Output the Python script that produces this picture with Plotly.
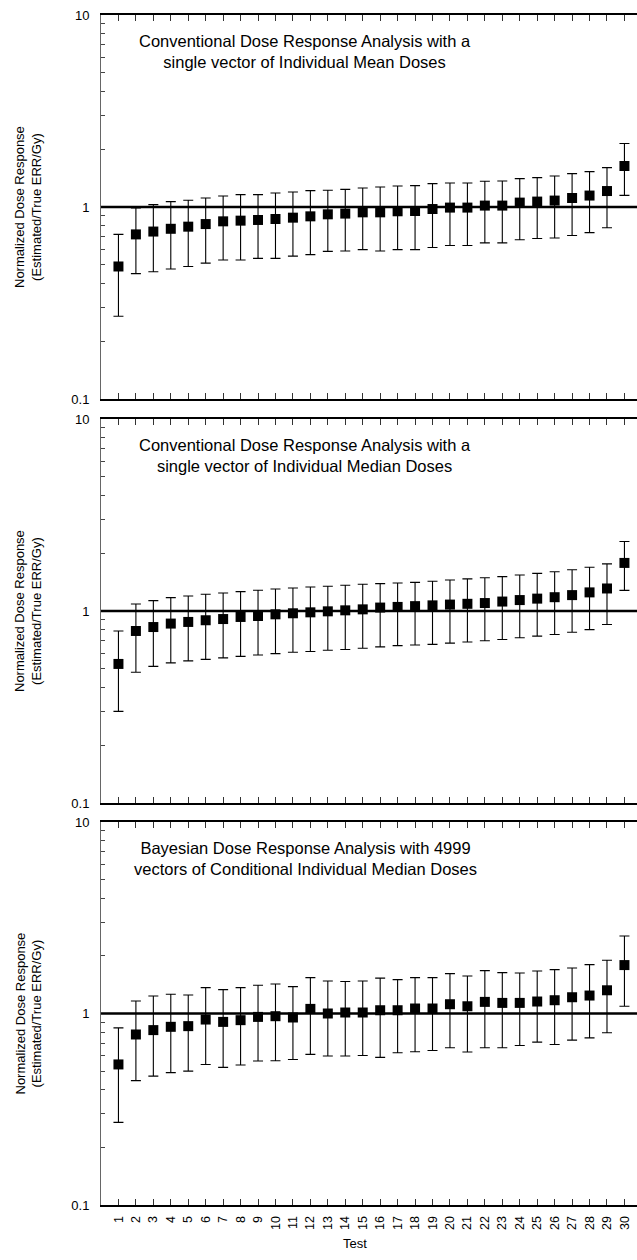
import plotly.graph_objects as go

tests = list(range(1, 31))
tick_labels = [str(t) for t in tests]
y_tick_values = [0.1, 0.2, 0.3, 0.4, 0.5, 0.6, 0.7, 0.8, 0.9, 1, 2, 3, 4, 5, 6, 7, 8, 9, 10]
y_tick_text = ["0.1"] + [""] * 8 + ["1"] + [""] * 8 + ["10"]

# Panel 1: conventional, individual mean doses
mean_est = [0.49, 0.72, 0.745, 0.77, 0.79, 0.815, 0.842, 0.849, 0.856, 0.866,
            0.88, 0.894, 0.916, 0.924, 0.938, 0.938, 0.95, 0.953, 0.976, 0.993,
            0.993, 1.017, 1.017, 1.054, 1.067, 1.08, 1.114, 1.147, 1.211, 1.635]
mean_hi = [0.72, 0.99, 1.029, 1.067, 1.084, 1.114, 1.141, 1.16, 1.16, 1.183,
           1.197, 1.217, 1.222, 1.236, 1.256, 1.271, 1.286, 1.292, 1.324, 1.334,
           1.334, 1.361, 1.366, 1.406, 1.423, 1.45, 1.493, 1.528, 1.604, 2.14]
mean_lo = [0.27, 0.45, 0.46, 0.475, 0.49, 0.51, 0.53, 0.53, 0.54, 0.54,
           0.555, 0.565, 0.587, 0.59, 0.60, 0.59, 0.60, 0.60, 0.615, 0.63,
           0.63, 0.65, 0.65, 0.675, 0.685, 0.69, 0.71, 0.735, 0.78, 1.15]

# Panel 2: conventional, individual median doses
median_est = [0.53, 0.787, 0.825, 0.86, 0.877, 0.895, 0.908, 0.931, 0.942, 0.961,
              0.973, 0.984, 0.996, 1.008, 1.02, 1.042, 1.05, 1.06, 1.07, 1.08,
              1.09, 1.10, 1.12, 1.14, 1.16, 1.18, 1.21, 1.25, 1.31, 1.78]
median_hi = [0.787, 1.087, 1.133, 1.174, 1.197, 1.222, 1.241, 1.262, 1.282, 1.302,
             1.318, 1.334, 1.345, 1.361, 1.377, 1.388, 1.40, 1.41, 1.43, 1.45,
             1.47, 1.49, 1.51, 1.54, 1.57, 1.60, 1.64, 1.69, 1.76, 2.30]
median_lo = [0.30, 0.48, 0.515, 0.537, 0.55, 0.56, 0.57, 0.58, 0.59, 0.60,
             0.61, 0.615, 0.625, 0.63, 0.64, 0.65, 0.66, 0.665, 0.67, 0.68,
             0.69, 0.70, 0.71, 0.725, 0.74, 0.755, 0.775, 0.80, 0.85, 1.28]

# Panel 3: Bayesian, 4999 vectors of conditional individual median doses
bayes_est = [0.542, 0.777, 0.819, 0.852, 0.859, 0.93, 0.904, 0.923, 0.96, 0.968,
             0.953, 1.057, 1.0, 1.012, 1.012, 1.04, 1.04, 1.062, 1.062, 1.118,
             1.091, 1.15, 1.136, 1.136, 1.155, 1.173, 1.216, 1.241, 1.322, 1.79]
bayes_hi = [0.841, 1.163, 1.235, 1.26, 1.25, 1.365, 1.333, 1.365, 1.404, 1.426,
            1.382, 1.54, 1.479, 1.468, 1.479, 1.53, 1.503, 1.54, 1.54, 1.615,
            1.57, 1.675, 1.635, 1.628, 1.667, 1.694, 1.729, 1.8, 1.896, 2.54]
bayes_lo = [0.27, 0.446, 0.471, 0.491, 0.5, 0.542, 0.523, 0.538, 0.565, 0.567,
            0.575, 0.612, 0.6, 0.6, 0.604, 0.59, 0.624, 0.631, 0.641, 0.662,
            0.629, 0.662, 0.662, 0.681, 0.709, 0.689, 0.726, 0.746, 0.793, 1.091]

panel_titles = [
    "Conventional Dose Response Analysis with a<br>single vector of Individual Mean Doses",
    "Conventional Dose Response Analysis with a<br>single vector of Individual Median Doses",
    "Bayesian Dose Response Analysis with 4999<br>vectors of Conditional Individual Median Doses",
]
y_title = "Normalized Dose Response<br>(Estimated/True ERR/Gy)"
x_title = "Test"

series = [(mean_est, mean_hi, mean_lo), (median_est, median_hi, median_lo),
          (bayes_est, bayes_hi, bayes_lo)]

W, H = 637, 1260
ML, MR, MT, MB = 101, 0, 15, 55
PH = H - MT - MB
panels_px = [(15, 399), (419, 803), (822, 1205)]

def py(p):
    return 1 - (p - MT) / PH

def px(p):
    return (p - ML) / (W - ML - MR)

FONT = "Liberation Sans, Arial, sans-serif"
fig = go.Figure()
annotations = []
shapes = []
for i, (est, hi, lo) in enumerate(series):
    n = i + 1
    xa = "x" if n == 1 else f"x{n}"
    ya = "y" if n == 1 else f"y{n}"
    fig.add_trace(go.Scatter(
        x=tests, y=est, mode="markers", xaxis=xa, yaxis=ya,
        marker=dict(symbol="square", size=10, color="black"),
        error_y=dict(type="data", symmetric=False,
                     array=[h - e for h, e in zip(hi, est)],
                     arrayminus=[e - l for e, l in zip(est, lo)],
                     color="black", thickness=1.1, width=5),
        showlegend=False, cliponaxis=False))
    top, bot = panels_px[i]
    dom = [py(bot), py(top)]
    xkey = "xaxis" if n == 1 else f"xaxis{n}"
    ykey = "yaxis" if n == 1 else f"yaxis{n}"
    fig.update_layout({
        xkey: dict(domain=[0, 1], anchor=ya, range=[0, 30.72],
                   tickmode="array", tickvals=tests,
                   ticktext=tick_labels if n == 3 else [""] * 30,
                   ticks="inside", ticklen=6, tickwidth=1, tickcolor="#333",
                   mirror="ticks", showline=True, linecolor="black", linewidth=2,
                   showgrid=False, zeroline=False, tickangle=-90,
                   tickfont=dict(family=FONT, size=12.5, color="black"),
                   ticklabelstandoff=4),
        ykey: dict(domain=dom, anchor=xa, type="log", range=[-1, 1],
                   tickmode="array", tickvals=y_tick_values, ticktext=y_tick_text,
                   ticks="inside", ticklen=4, tickwidth=1, tickcolor="#444",
                   showline=True, linecolor="#666", linewidth=1, mirror=False,
                   showgrid=False, zeroline=False,
                   tickfont=dict(family=FONT, size=13, color="black"),
                   ticklabelstandoff=8),
    })
    shapes.append(dict(type="line", xref=f"{xa} domain", yref=ya, x0=0, x1=1,
                       y0=1, y1=1, line=dict(color="black", width=2.5)))
    annotations.append(dict(text=panel_titles[i], xref="paper", yref="paper",
                            x=px(305), y=py(top + 36.5),
                            xanchor="center", yanchor="middle", showarrow=False,
                            align="center",
                            font=dict(family=FONT, size=16.5, color="black")))
    annotations.append(dict(text=y_title, xref="paper", yref="paper", x=px(28),
                            y=py((top + bot) / 2), xanchor="center", yanchor="middle",
                            textangle=-90, showarrow=False,
                            font=dict(family=FONT, size=13, color="black")))

annotations.append(dict(text=x_title, xref="paper", yref="paper", x=px(355), y=py(1243),
                        xanchor="center", yanchor="middle", showarrow=False,
                        font=dict(family=FONT, size=13, color="black")))

fig.update_layout(width=W, height=H, margin=dict(l=ML, r=MR, t=MT, b=MB),
                  paper_bgcolor="white", plot_bgcolor="white",
                  annotations=annotations, shapes=shapes)
fig.write_html("out.html")
